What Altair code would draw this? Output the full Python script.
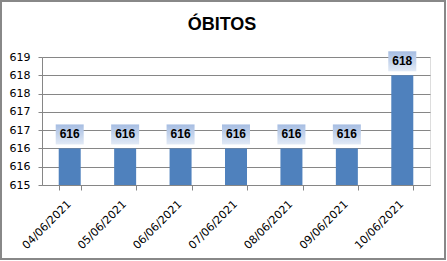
import altair as alt
import pandas as pd

dates = ["04/06/2021", "05/06/2021", "06/06/2021", "07/06/2021",
         "08/06/2021", "09/06/2021", "10/06/2021"]
obitos = [616, 616, 616, 616, 616, 616, 618]
y_ticks = [615.0, 615.5, 616.0, 616.5, 617.0, 617.5, 618.0, 618.5]

df = pd.DataFrame({"data": dates, "obitos": obitos})

W, H = 388, 128
GRID = "#868686"

x_enc = alt.X(
    "data:N", sort=dates, title=None,
    scale=alt.Scale(paddingInner=0.6, paddingOuter=0.3),
    axis=alt.Axis(labelAngle=-45, labelFont="DejaVu Sans", labelFontSize=11,
                  labelColor="#000000", domainColor=GRID, tickColor=GRID,
                  tickSize=5, tickBand="extent", labelPadding=8, labelOffset=-5,
                  labelOverlap=False, grid=False),
)
y_scale = alt.Scale(domain=[615, 618.5], zero=False, nice=False)
y_enc = alt.Y(
    "obitos:Q", title=None, scale=y_scale,
    axis=alt.Axis(values=y_ticks, labelExpr="format(round(datum.value), 'd')",
                  labelOverlap=False, labelBound=False, tickCount=8,
                  labelFont="DejaVu Sans", labelFontSize=11, labelColor="#000000",
                  domainColor=GRID, tickColor=GRID, tickSize=4, labelPadding=8,
                  grid=True, gridColor=GRID, gridOpacity=1),
)

base = alt.Chart(df)

frame = base.mark_rect(fill=None, stroke="#888888", strokeWidth=2).encode(
    x=alt.value(-41), x2=alt.value(W + 15), y=alt.value(-56), y2=alt.value(H + 74)
).transform_filter("datum.data == '04/06/2021'")

bars = base.mark_bar(width=22, color="#4f81bd").encode(
    x=x_enc, y=y_enc, y2=alt.datum(615)
)

grad = alt.LinearGradient(
    gradient="linear", x1=0, x2=0, y1=0, y2=1,
    stops=[alt.GradientStop(color="#a6bde2", offset=0),
           alt.GradientStop(color="#e2eaf6", offset=1)],
)
boxes = base.mark_bar(width=28, color=grad, yOffset=-24, y2Offset=-4).encode(
    x=x_enc, y=y_enc, y2=alt.Y2("obitos")
)
labels = base.mark_text(font="Liberation Sans", fontSize=12, fontWeight="bold",
                        color="#000000", dy=-14, baseline="middle").encode(
    x=x_enc, y=y_enc, text=alt.Text("obitos:Q", format="d")
)

chart = alt.layer(bars, boxes, labels, frame).properties(
    width=W, height=H,
    title=alt.TitleParams("ÓBITOS", font="Liberation Sans", fontSize=18,
                          fontWeight="bold", color="#000000", anchor="middle",
                          dx=-14, offset=-34),
    autosize=alt.AutoSizeParams(type="none"),
    padding={"left": 42, "top": 57, "right": 17, "bottom": 76},
).configure_view(strokeWidth=0, strokeOpacity=0).configure(background="#ffffff")

chart.save("out.html", embed_options={"renderer": "svg", "actions": False})
